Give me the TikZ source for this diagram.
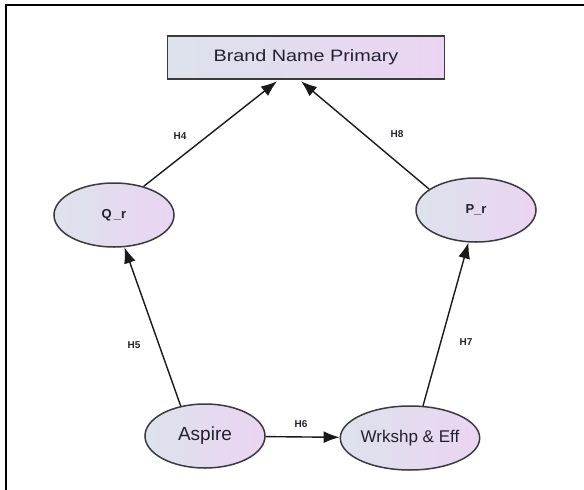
\documentclass[tikz,border=0pt]{standalone}
\usepackage{fontspec}
\setmainfont{Liberation Sans}
\newfontfamily\widefont[FakeStretch=1.2]{Liberation Sans}
\usetikzlibrary{arrows.meta,shapes.geometric,calc}
\definecolor{fillL}{HTML}{DCE3EC}
\definecolor{fillR}{HTML}{EBD4F2}
\definecolor{edgecol}{HTML}{3A3A40}
\definecolor{txtcol}{HTML}{24212F}
\tikzset{
  ovalnode/.style={ellipse, draw=edgecol, line width=1.5pt, left color=fillL, right color=fillR,
    minimum width=120pt, minimum height=64pt, inner sep=0pt, text=txtcol},
  boxnode/.style={rectangle, draw=edgecol, line width=1.5pt, left color=fillL, right color=fillR,
    minimum width=277pt, minimum height=43pt, inner sep=0pt, text=txtcol},
  conn/.style={draw=black!90, line width=1.4pt, -{Latex[length=16pt,width=12pt]}},
  hlab/.style={font=\bfseries\fontsize{10}{10}\selectfont, text=txtcol, inner sep=0pt}
}
\begin{document}
\begin{tikzpicture}[x=1pt,y=-1pt]
\useasboundingbox (0,0) rectangle (584,490);
\draw[line width=2pt] (584,5) -- (6,5) -- (6,490);
\node[boxnode, font=\widefont\fontsize{16.5}{16.5}\selectfont] (box) at (306,57.5) {Brand Name Primary};
\node[ovalnode, font=\bfseries\fontsize{13}{13}\selectfont] (q) at (114,215) {Q\,\_r};
\node[ovalnode, font=\bfseries\fontsize{13}{13}\selectfont] (p) at (476,210) {P\_r};
\node[ovalnode, font=\fontsize{19}{19}\selectfont] (a) at (205,436) {Aspire};
\node[ovalnode, font=\fontsize{17}{17}\selectfont] (w) at (410,438) {Wrkshp \& Eff};
\coordinate (tq) at ($(box.south)+(-29,1.5)$);
\coordinate (tp) at ($(box.south)+(-5,1.5)$);
\draw[conn] (q.44) -- (tq);
\draw[conn] (p.156) -- (tp);
\draw[conn] (a.129) -- (q.-72);
\draw[conn] (w.68) -- (p.-103);
\draw[conn] (a) -- (w);
\node[hlab] (h4) at (180,136) {H4};
\node[hlab] (h8) at (397,134) {H8};
\node[hlab] (h5) at (134,345) {H5};
\node[hlab] (h7) at (466,342) {H7};
\node[hlab] (h6) at (301,424) {H6};
\end{tikzpicture}
\end{document}
